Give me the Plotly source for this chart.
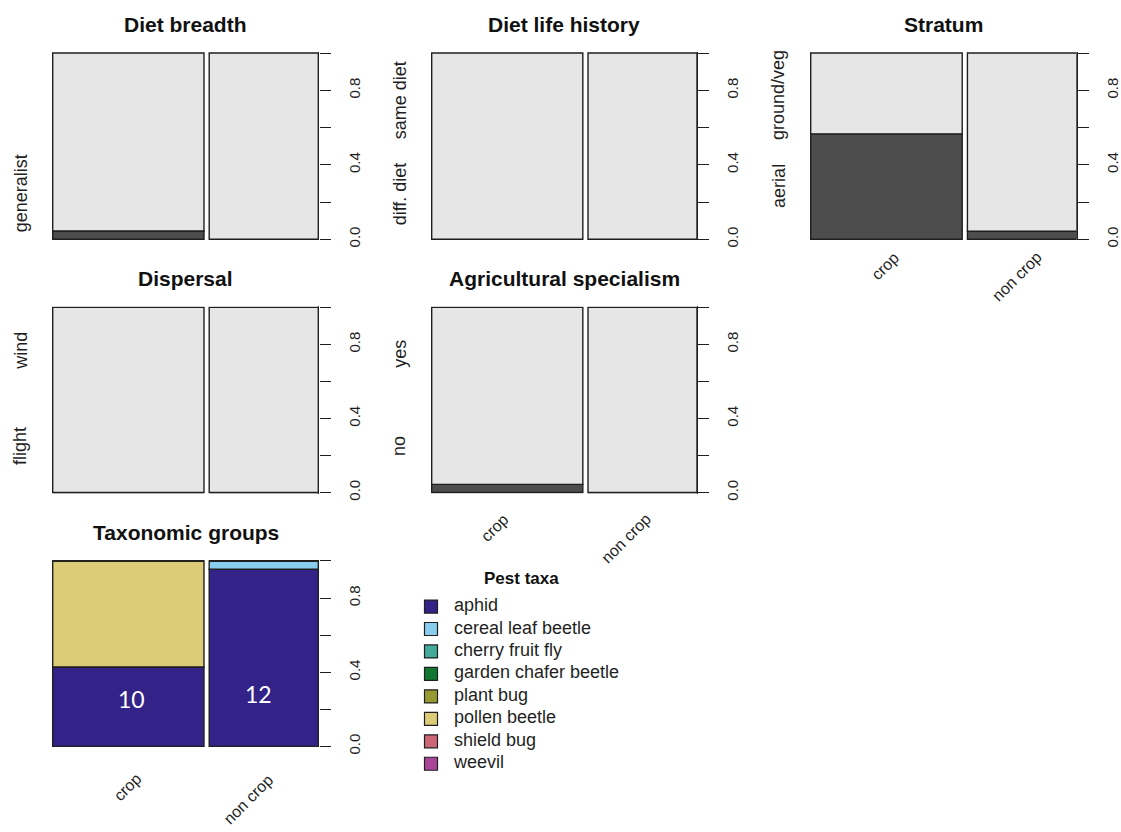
import plotly.graph_objects as go

W, H = 1121, 832
FONT = "Liberation Sans, Arial, Helvetica, sans-serif"
INK = "#1f1f1f"

# ---- data -------------------------------------------------------------
sites = ["crop", "non crop"]
site_share = [0.581, 0.419]          # spine widths (share of records per site)
spine_gap = 0.02

# share of the first (dark) level within each site
diet_breadth = [0.044, 0.0]
diet_life_history = [0.0, 0.0]
stratum = [0.566, 0.043]
dispersal = [0.0, 0.0]
agri_specialism = [0.044, 0.0]

taxa = ["aphid", "cereal leaf beetle", "cherry fruit fly", "garden chafer beetle",
        "plant bug", "pollen beetle", "shield bug", "weevil"]
taxa_colors = ["#332288", "#88CCEE", "#44AA99", "#117733",
               "#999933", "#DDCC77", "#CC6677", "#AA4499"]
taxa_crop = [0.428, 0.0, 0.0, 0.0, 0.0, 0.572, 0.0, 0.0]
taxa_noncrop = [0.955, 0.045, 0.0, 0.0, 0.0, 0.0, 0.0, 0.0]
aphid_counts = [10, 12]

tick_vals = [0.0, 0.2, 0.4, 0.6, 0.8, 1.0]
tick_text = ["0.0", "", "0.4", "", "0.8", ""]

two_level_grays = ["#4D4D4D", "#E6E6E6"]

# ---- panel geometry (pixels) -----------------------------------------
col_left = [52.7, 431.7, 810.7]
col_axis = [318.3, 697.0, 1076.7]
row_top = [53.5, 310.0, 565.7]
row_bottom = [241.3, 496.7, 752.7]

panels = [
    dict(title="Diet breadth", vals=diet_breadth, levels=["generalist"], lpos=[0.245],
         r=0, c=0, xlab=None),
    dict(title="Diet life history", vals=diet_life_history,
         levels=["diff. diet", "same diet"], lpos=[0.245, 0.745], r=0, c=1, xlab=None),
    dict(title="Stratum", vals=stratum, levels=["aerial", "ground/veg"],
         lpos=[0.285, 0.773], r=0, c=2, xlab=[(885, 269), (1017, 279)]),
    dict(title="Dispersal", vals=dispersal, levels=["flight", "wind"],
         lpos=[0.25, 0.764], r=1, c=0, xlab=None),
    dict(title="Agricultural specialism", vals=agri_specialism, levels=["no", "yes"],
         lpos=[0.25, 0.748], r=1, c=1, xlab=[(495, 532), (626, 543)]),
    dict(title="Taxonomic groups", vals=None, levels=[], lpos=[],
         r=2, c=0, xlab=[(127, 794), (248, 806)]),
]

XR = [-0.006, 1.0 + spine_gap]
YR = [-0.006, 1.006]

x_lo = [0.0, site_share[0] + spine_gap]
x_centers = [x_lo[i] + site_share[i] / 2 for i in range(2)]

fig = go.Figure()
annotations = []


def px(x):
    return x / W


def py(y):
    return 1 - y / H


bar_line = dict(color=INK, width=1.4)

for k, p in enumerate(panels, start=1):
    r, c = p["r"], p["c"]
    left, axis_x = col_left[c], col_axis[c]
    top, bottom = row_top[r], row_bottom[r]
    sx = (axis_x - left) / (XR[1])
    sy = (bottom - top)
    dom_x = [px(left + XR[0] * sx), px(axis_x)]
    dom_y = [py(bottom - YR[0] * sy), py(top - (YR[1] - 1) * sy)]

    xa = "x" if k == 1 else f"x{k}"
    ya = "y" if k == 1 else f"y{k}"
    fig.update_layout(**{
        ("xaxis" if k == 1 else f"xaxis{k}"): dict(
            domain=dom_x, range=XR, visible=False, anchor=ya, fixedrange=True),
        ("yaxis" if k == 1 else f"yaxis{k}"): dict(
            domain=dom_y, range=YR, anchor=xa, side="right",
            showline=True, linecolor=INK, linewidth=1.4, mirror=False,
            ticks="outside", ticklen=11, tickwidth=1.4, tickcolor=INK,
            tickvals=tick_vals, ticktext=tick_text, tickangle=-90,
            tickfont=dict(family=FONT, size=15, color=INK),
            ticklabelstandoff=11,
            showgrid=False, zeroline=False, fixedrange=True),
    })

    if p["vals"] is not None:
        dark = p["vals"]
        light = [1 - v for v in dark]
        fig.add_trace(go.Bar(x=x_centers, y=dark, base=[0, 0], width=site_share,
                             marker=dict(color=two_level_grays[0], line=bar_line),
                             xaxis=xa, yaxis=ya, showlegend=False, hoverinfo="skip"))
        fig.add_trace(go.Bar(x=x_centers, y=light, base=dark, width=site_share,
                             marker=dict(color=two_level_grays[1], line=bar_line),
                             xaxis=xa, yaxis=ya, showlegend=False, hoverinfo="skip"))
    else:
        base = [0.0, 0.0]
        for name, col, a, b in zip(taxa, taxa_colors, taxa_crop, taxa_noncrop):
            fig.add_trace(go.Bar(x=x_centers, y=[a, b], base=list(base), width=site_share,
                                 marker=dict(color=col, line=bar_line), name=name,
                                 xaxis=xa, yaxis=ya, showlegend=False, hoverinfo="skip"))
            base = [base[0] + a, base[1] + b]
        # counts written on the aphid spines
        for xv, yv, n in zip([0.303, 0.792], [0.255, 0.282], aphid_counts):
            annotations.append(dict(x=xv, y=yv, xref=xa, yref=ya, text=str(n),
                                    showarrow=False, xanchor="center", yanchor="middle",
                                    font=dict(family="Lato, Open Sans, sans-serif",
                                              size=23, color="white")))

    # panel title
    annotations.append(dict(x=px((left + axis_x) / 2), y=py(top - 29), xref="paper",
                            yref="paper", text=f"<b>{p['title']}</b>", showarrow=False,
                            xanchor="center", yanchor="middle",
                            font=dict(family=FONT, size=21, color="#111")))
    # level labels on the left
    for lab, pos in zip(p["levels"], p["lpos"]):
        annotations.append(dict(x=px(left - 32), y=py(bottom - pos * sy), xref="paper",
                                yref="paper", text=lab, showarrow=False, textangle=-90,
                                xanchor="center", yanchor="middle",
                                font=dict(family=FONT, size=18, color=INK)))
    # site labels under the spines
    if p["xlab"]:
        for lab, (lx, ly) in zip(sites, p["xlab"]):
            annotations.append(dict(x=px(lx), y=py(ly), xref="paper", yref="paper",
                                    text=lab, showarrow=False, textangle=-45,
                                    xanchor="center", yanchor="middle",
                                    font=dict(family=FONT, size=16, color=INK)))

# ---- legend for the taxa ---------------------------------------------
leg_k = len(panels) + 1
fig.update_layout(**{
    f"xaxis{leg_k}": dict(domain=[px(400), px(720)], range=[400, 720], visible=False,
                          anchor=f"y{leg_k}", fixedrange=True),
    f"yaxis{leg_k}": dict(domain=[py(800), py(595)], range=[800, 595], visible=False,
                          anchor=f"x{leg_k}", fixedrange=True),
})
row_y = [611.7 + 22.65 * i for i in range(len(taxa))]
fig.add_trace(go.Scatter(x=[431] * len(taxa), y=row_y, mode="markers",
                         marker=dict(symbol="square", size=13, color=taxa_colors,
                                     line=dict(color=INK, width=1.2)),
                         xaxis=f"x{leg_k}", yaxis=f"y{leg_k}", showlegend=False,
                         hoverinfo="skip", cliponaxis=False))
fig.add_trace(go.Scatter(x=[454] * len(taxa), y=row_y, mode="text", text=taxa,
                         textposition="middle right",
                         textfont=dict(family=FONT, size=18, color=INK),
                         xaxis=f"x{leg_k}", yaxis=f"y{leg_k}", showlegend=False,
                         hoverinfo="skip", cliponaxis=False))
annotations.append(dict(x=px(521), y=py(583), xref="paper", yref="paper",
                        text="<b>Pest taxa</b>", showarrow=False,
                        xanchor="center", yanchor="middle",
                        font=dict(family=FONT, size=17, color="#111")))

fig.update_layout(width=W, height=H, margin=dict(l=0, r=0, t=0, b=0), autosize=False,
                  paper_bgcolor="white", plot_bgcolor="white", showlegend=False,
                  barmode="overlay", annotations=annotations,
                  font=dict(family=FONT, color=INK))

fig.write_html("out.html", config={"displayModeBar": False})
